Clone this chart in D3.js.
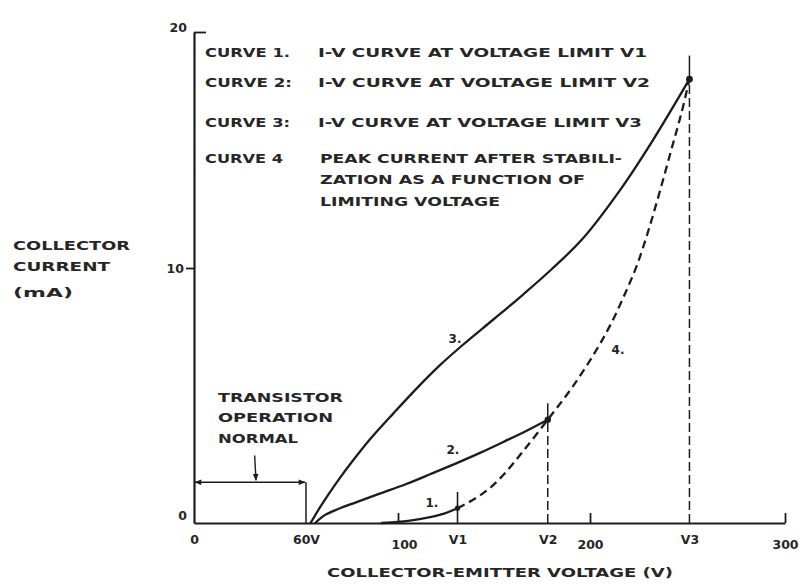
<!DOCTYPE html>
<html>
<head>
<meta charset="utf-8">
<script src="https://cdn.jsdelivr.net/npm/d3@7"></script>
<style>
  html, body { margin: 0; padding: 0; background: #fff; }
  svg { display: block; }
  text { font-family: "DejaVu Sans", sans-serif; font-weight: bold; fill: #262626; }
</style>
</head>
<body>
<svg id="chart" width="812" height="586"></svg>
<script>
// Limiting voltages (V) and their axis names
const limitNames = ["V1", "V2", "V3"];
const limitVoltages = [131, 178, 251];

// Axis ticks
const xTickValues = [0, 60, 100, 131, 178, 200, 251, 300];
const xTickText = ["0", "60V", "100", "V1", "V2", "200", "V3", "300"];
const xMinorTicks = [100, 200, 300];
const yTickValues = [0, 10, 20];

// I-V curves: [collector-emitter voltage (V), collector current (mA)]
const curve1 = [[93,0],[100,0.04],[108,0.11],[116,0.22],[124,0.37],[131,0.58]];
const curve2 = [[64,0],[68,0.3],[74,0.55],[82,0.82],[92,1.15],[104,1.52],[117,1.92],[130,2.33],
                [143,2.76],[156,3.22],[167,3.62],[178,4.05]];
const curve3 = [[62,0],[66,0.6],[70,1.15],[75,1.8],[80,2.4],[88,3.3],[98,4.3],[110,5.3],[122,6.2],
                [134,7.0],[150,8.0],[165,8.95],[180,9.95],[196.5,11.27],[215.4,13.3],[232.3,15.42],[251,18.0]];
// Peak current after stabilization vs limiting voltage
const curve4 = [[131,0.58],[140,0.95],[148,1.38],[156,1.98],[165,2.8],[178,4.05],[191,5.35],[203,6.75],
                [211,7.85],[218,9.0],[224,10.1],[230,11.6],[236,13.3],[242,15.1],[247,16.6],[251,18.0]];

// Normal operating region (V) and the current level of its bracket (mA)
const normalLimit = 60;
const bracketLevel = 1.6;

// Curve number labels: [V, mA, text]
const curveLabels = [[129.7, 7.2, "3."], [128.6, 2.86, "2."], [117.7, 0.78, "1."], [214.4, 6.8, "4."]];

// Legend text
const legendKeys = ["CURVE 1.", "CURVE 2:", "CURVE 3:", "CURVE 4"];
const legendLines = [
  "I-V CURVE AT VOLTAGE LIMIT V1",
  "I-V CURVE AT VOLTAGE LIMIT V2",
  "I-V CURVE AT VOLTAGE LIMIT V3",
  "PEAK CURRENT AFTER STABILI-",
  "ZATION AS A FUNCTION OF",
  "LIMITING VOLTAGE"
];

const svg = d3.select("#chart");
const ink = "#1c1c1c";

// Hand-lettered axes are not perfectly even, so the scales are piecewise linear
const x = d3.scaleLinear().domain([0, 60, 100, 200, 300]).range([194, 306, 398, 590, 785]);
const y = d3.scaleLinear().domain([0, 10, 20]).range([523, 268, 32]);

const defs = svg.append("defs");
defs.append("marker")
  .attr("id", "arrow")
  .attr("viewBox", "0 0 10 10")
  .attr("refX", 9).attr("refY", 5)
  .attr("markerWidth", 12).attr("markerHeight", 7)
  .attr("markerUnits", "userSpaceOnUse")
  .attr("orient", "auto-start-reverse")
  .append("path").attr("d", "M0,1 L10,5 L0,9 Z").attr("fill", ink);

// X axis
const xAxis = d3.axisBottom(x)
  .tickValues(xTickValues)
  .tickFormat((d, i) => xTickText[i])
  .tickSizeInner(-10)
  .tickSizeOuter(0)
  .tickPadding(13);
const gx = svg.append("g").attr("transform", `translate(0,${y(0)})`).call(xAxis);
gx.select(".domain").attr("stroke", ink).attr("stroke-width", 2.2);
gx.selectAll(".tick line")
  .attr("stroke", ink).attr("stroke-width", 1.8)
  .attr("display", d => xMinorTicks.includes(d) ? null : "none");
gx.selectAll(".tick text")
  .attr("font-size", 12.5)
  .attr("font-family", "DejaVu Sans, sans-serif")
  .attr("font-weight", "bold")
  .attr("fill", "#262626")
  .attr("dx", d => (d === 100 ? 6 : 0))
  .attr("y", d => (d === 100 || d === 200 || d === 300) ? 17 : 12);

// Y axis
const yAxis = d3.axisLeft(y).tickValues(yTickValues).tickSizeInner(8).tickSizeOuter(0).tickPadding(3);
const gy = svg.append("g").attr("transform", `translate(${x(0)},0)`).call(yAxis);
gy.select(".domain").attr("stroke", ink).attr("stroke-width", 2.2);
gy.selectAll(".tick line")
  .attr("stroke", ink).attr("stroke-width", 1.8)
  .attr("x2", d => d === 20 ? 12 : -8)
  .attr("display", d => d === 0 ? "none" : null);
gy.selectAll(".tick text")
  .attr("font-size", 12.5)
  .attr("font-family", "DejaVu Sans, sans-serif")
  .attr("font-weight", "bold")
  .attr("fill", "#262626")
  .attr("x", d => d === 10 ? -10 : -7)
  .attr("dy", d => d === 20 ? "-0.05em" : d === 0 ? "-0.25em" : "0.32em");

// Axis titles
const yTitle = [["COLLECTOR", 245, 117], ["CURRENT", 266, 97], ["(mA)", 292, 60]];
svg.append("g").selectAll("text").data(yTitle).join("text")
  .attr("x", 13).attr("y", d => d[1])
  .attr("dominant-baseline", "central")
  .attr("font-size", 12.5)
  .attr("textLength", d => d[2]).attr("lengthAdjust", "spacingAndGlyphs")
  .text(d => d[0]);

svg.append("text")
  .attr("x", 327).attr("y", 572)
  .attr("dominant-baseline", "central")
  .attr("font-size", 12.5)
  .attr("textLength", 346).attr("lengthAdjust", "spacingAndGlyphs")
  .text("COLLECTOR-EMITTER VOLTAGE (V)");

// Limiting-voltage verticals
const vx = v => x(v);
// V1: short solid mark through the end of curve 1
svg.append("line")
  .attr("x1", vx(limitVoltages[0])).attr("x2", vx(limitVoltages[0]))
  .attr("y1", y(0)).attr("y2", y(1.22))
  .attr("stroke", ink).attr("stroke-width", 1.6);
// V2, V3: dashed from the axis to the curve end
[[limitVoltages[1], 4.05, 4.7], [limitVoltages[2], 18.0, 19.0]].forEach(([v, top, tick]) => {
  svg.append("line")
    .attr("x1", vx(v)).attr("x2", vx(v))
    .attr("y1", y(0)).attr("y2", y(top))
    .attr("stroke", ink).attr("stroke-width", 1.5)
    .attr("stroke-dasharray", "9,4");
  svg.append("line")
    .attr("x1", vx(v)).attr("x2", vx(v))
    .attr("y1", y(top)).attr("y2", y(tick))
    .attr("stroke", ink).attr("stroke-width", 1.5);
});

// Curves
const line = d3.line().x(d => x(d[0])).y(d => y(d[1])).curve(d3.curveCatmullRom.alpha(0.5));
[curve1, curve2, curve3].forEach(c => {
  svg.append("path").attr("d", line(c))
    .attr("fill", "none").attr("stroke", ink).attr("stroke-width", 2.3)
    .attr("stroke-linecap", "round");
});
svg.append("path").attr("d", line(curve4))
  .attr("fill", "none").attr("stroke", ink).attr("stroke-width", 2.3)
  .attr("stroke-dasharray", "8,5");

// End points at each limit
const ends = [curve1[curve1.length - 1], curve2[curve2.length - 1], curve3[curve3.length - 1]];
svg.append("g").selectAll("circle").data(ends).join("circle")
  .attr("cx", d => x(d[0])).attr("cy", d => y(d[1]))
  .attr("r", (d, i) => [2.6, 3.2, 3.4][i])
  .attr("fill", ink);

// Curve number labels
svg.append("g").selectAll("text").data(curveLabels).join("text")
  .attr("x", d => x(d[0])).attr("y", d => y(d[1]))
  .attr("text-anchor", "middle").attr("dominant-baseline", "central")
  .attr("font-size", 12)
  .text(d => d[2]);

// Normal operation bracket
svg.append("line")
  .attr("x1", x(0) + 1).attr("x2", x(normalLimit) - 1)
  .attr("y1", y(bracketLevel)).attr("y2", y(bracketLevel))
  .attr("stroke", ink).attr("stroke-width", 1.5)
  .attr("marker-start", "url(#arrow)").attr("marker-end", "url(#arrow)");
svg.append("line")
  .attr("x1", x(normalLimit)).attr("x2", x(normalLimit))
  .attr("y1", y(bracketLevel)).attr("y2", y(0))
  .attr("stroke", ink).attr("stroke-width", 1.5);
svg.append("line")
  .attr("x1", x(32.5)).attr("x2", x(33.2))
  .attr("y1", y(2.65)).attr("y2", y(bracketLevel) - 2)
  .attr("stroke", ink).attr("stroke-width", 1.4)
  .attr("marker-end", "url(#arrow)");

const normalText = [["TRANSISTOR", 398, 125], ["OPERATION", 418, 115], ["NORMAL", 439, 80]];
svg.append("g").selectAll("text").data(normalText).join("text")
  .attr("x", 218).attr("y", d => d[1])
  .attr("dominant-baseline", "central")
  .attr("font-size", 12)
  .attr("textLength", d => d[2]).attr("lengthAdjust", "spacingAndGlyphs")
  .text(d => d[0]);

// Legend block
const keyRows = [[52, 85], [82, 87], [122, 85], [158, 78]];
svg.append("g").selectAll("text").data(legendKeys).join("text")
  .attr("x", 205).attr("y", (d, i) => keyRows[i][0])
  .attr("dominant-baseline", "central")
  .attr("font-size", 12.5)
  .attr("textLength", (d, i) => keyRows[i][1]).attr("lengthAdjust", "spacingAndGlyphs")
  .text(d => d);

const lineRows = [[318, 52, 329], [318, 82, 332], [318, 122, 324], [320, 158, 302], [320, 179, 265], [320, 201, 180]];
svg.append("g").selectAll("text").data(legendLines).join("text")
  .attr("x", (d, i) => lineRows[i][0]).attr("y", (d, i) => lineRows[i][1])
  .attr("dominant-baseline", "central")
  .attr("font-size", 12.5)
  .attr("textLength", (d, i) => lineRows[i][2]).attr("lengthAdjust", "spacingAndGlyphs")
  .text(d => d);
</script>
</body>
</html>
